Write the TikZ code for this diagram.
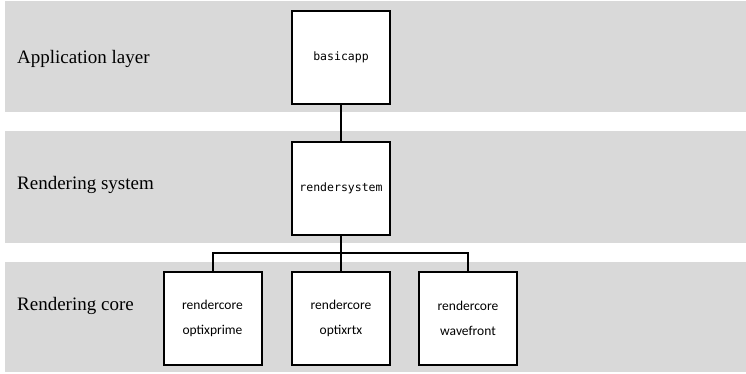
\documentclass[tikz,border=0pt]{standalone}
\usepackage{fontspec}
\setmainfont{Liberation Serif}
\newfontfamily\layerserif{Liberation Serif}
\newfontfamily\boxsans{Carlito}
\newfontfamily\boxmono{DejaVu Sans Mono}
\definecolor{layergrey}{HTML}{D9D9D9}
\tikzset{
    layer/.style={fill=layergrey, draw=none},
    layername/.style={anchor=west, inner sep=0pt, font=\layerserif\fontsize{19}{22}\selectfont},
    modbox/.style={draw, fill=white, line width=2pt, minimum width=98pt, minimum height=93pt, inner sep=0pt, align=center},
    conn/.style={line width=2pt}
}
\begin{document}
\begin{tikzpicture}[x=1pt, y=-1pt]
    \useasboundingbox (0,0) rectangle (746,374);
    % layers
    \fill [layer] (5,1) rectangle (746,112);
    \fill [layer] (5,131) rectangle (746,243);
    \fill [layer] (5,262) rectangle (746,372);
    \node [layername] (applbl) at (17,59) {Application layer};
    \node [layername] (syslbl) at (17,185) {Rendering system};
    \node [layername] (corelbl) at (17,306) {Rendering core};
    % modules
    \node [modbox, font=\boxmono\fontsize{11.5}{14}\selectfont] (basicapp) at (341,57.5) {basicapp};
    \node [modbox, font=\boxmono\fontsize{11.5}{14}\selectfont] (rendersystem) at (341,188.5) {rendersystem};
    \node [modbox, font=\boxsans\fontsize{13.5}{25}\selectfont] (prime) at (212.5,318.5) {rendercore\\optixprime};
    \node [modbox, font=\boxsans\fontsize{13.5}{25}\selectfont] (rtx) at (341,318.5) {rendercore\\optixrtx};
    \node [modbox, font=\boxsans\fontsize{13.5}{25}\selectfont] (wavefront) at (468,318.5) {rendercore\\wavefront};
    % links
    \coordinate (bus) at (341,253);
    \draw [conn] (basicapp) -- (rendersystem);
    \draw [conn] (rendersystem) -- (bus);
    \draw [conn] (bus) -| (prime);
    \draw [conn] (bus) -| (wavefront);
    \draw [conn] (bus) -- (rtx);
\end{tikzpicture}
\end{document}
